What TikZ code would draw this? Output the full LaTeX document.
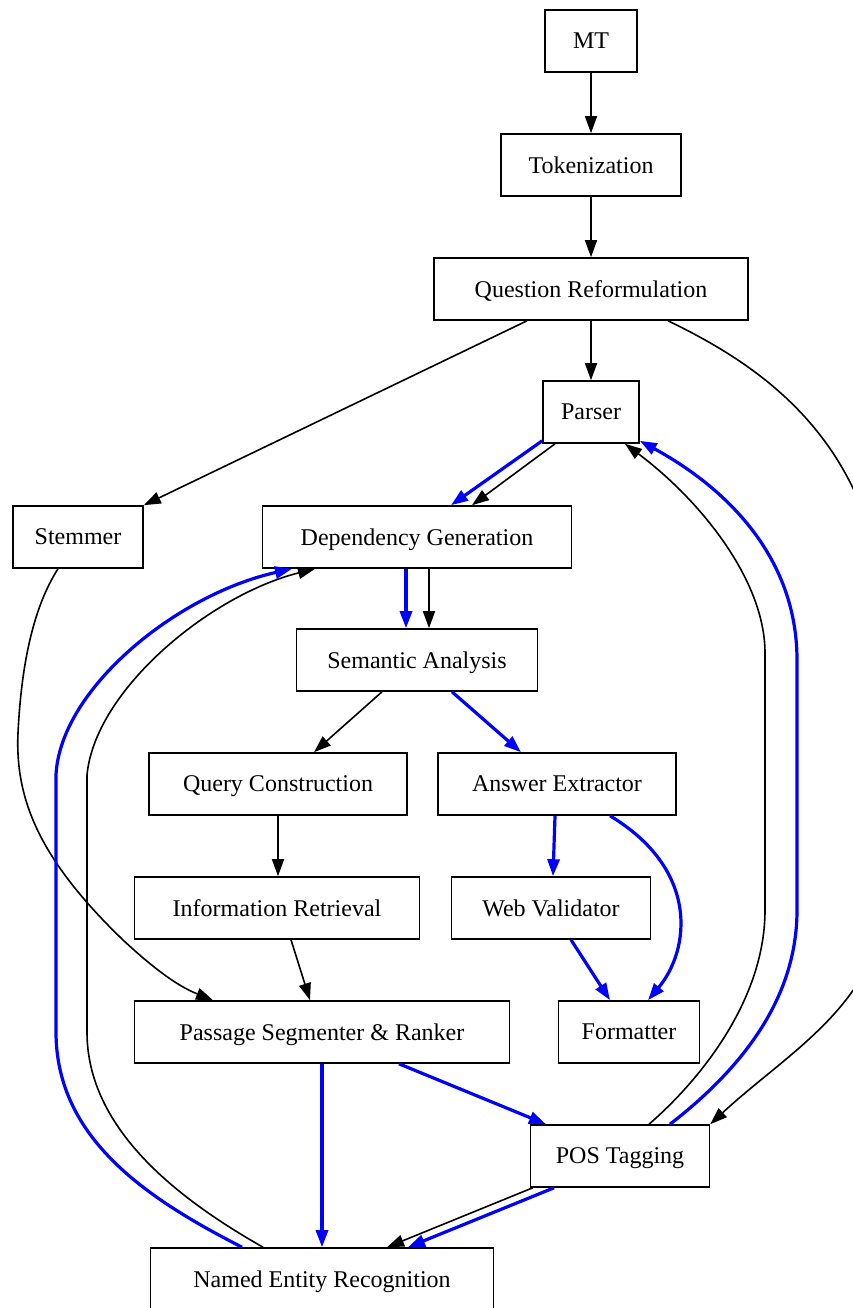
\documentclass[tikz,border=0pt]{standalone}
\usepackage{fontspec}
\setmainfont{Liberation Serif}
\usepackage{tikz}
\usetikzlibrary{arrows.meta,positioning,calc}

\begin{document}
\begin{tikzpicture}[x=1pt,y=-1pt,
    box/.style={draw,line width=1.6pt,minimum height=62pt,inner sep=0pt,text depth=0pt,font=\fontsize{24}{28}\selectfont},
    link/.style={line width=1.6pt,-{Triangle[length=17pt,width=12pt]}},
    bluelink/.style={link,blue,line width=3.2pt}]
  \useasboundingbox (0,0) rectangle (852,1308);
  % nodes
  \node[box,minimum width=92pt] (mt) at (591,41) {MT};
  \node[box,minimum width=180pt] (tok) at (591,165) {Tokenization};
  \node[box,minimum width=314pt] (qr) at (591,289) {Question Reformulation};
  \node[box,minimum width=96pt] (parser) at (591,412) {Parser};
  \node[box,minimum width=130pt] (stem) at (78,537) {Stemmer};
  \node[box,minimum width=309pt] (dep) at (417,537) {Dependency Generation};
  \node[box,minimum width=241pt] (sem) at (417,660) {Semantic Analysis};
  \node[box,minimum width=258pt] (query) at (278,784) {Query Construction};
  \node[box,minimum width=238pt] (ans) at (557,784) {Answer Extractor};
  \node[box,minimum width=285pt] (info) at (277,908) {Information Retrieval};
  \node[box,minimum width=199pt] (web) at (551,908) {Web Validator};
  \node[box,minimum width=375pt] (pass) at (322,1032) {Passage Segmenter \& Ranker};
  \node[box,minimum width=141pt] (fmt) at (629,1032) {Formatter};
  \node[box,minimum width=179pt] (pos) at (620,1156) {POS Tagging};
  \node[box,minimum width=343pt] (ner) at (322,1279) {Named Entity Recognition};
  % black edges
  \foreach \a/\b in {mt/tok,tok/qr,qr/parser}{\draw[link] (\a) -- (\b);}
  \draw[link] ([xshift=-64pt]qr.south) -- (stem.north east);
  \draw[link] ([xshift=77pt]qr.south) .. controls (770,370) and (885,450) .. (888,650)
    -- (888,880) .. controls (888,1000) and (790,1050) .. (pos.north east);
  \draw[link] ([xshift=-36pt]parser.south) -- ([xshift=55pt]dep.north);
  \draw[link] ([xshift=-20pt]stem.south) .. controls (38,600) and (22,650) .. (18,733)
    .. controls (15,800) and (40,860) .. (123,940) .. controls (150,965) and (175,985) .. ([xshift=-109pt]pass.north);
  \draw[link] ([xshift=12pt]dep.south) -- ([xshift=12pt]sem.north);
  \draw[link] ([xshift=-35pt]sem.south) -- ([xshift=36pt]query.north);
  \draw[link] (query.south) -- (query.south |- info.north);
  \draw[link] ([xshift=14pt]info.south) -- ([xshift=-12pt]pass.north);
  \draw[link] ([xshift=3pt]pos.south west) -- ([xshift=65pt]ner.north);
  \draw[link] ([xshift=29pt]pos.north) .. controls (700,1080) and (765,1000) .. (765,910)
    -- (765,653) .. controls (765,580) and (700,500) .. ([xshift=34pt]parser.south);
  \draw[link] ([xshift=-59pt]ner.north) .. controls (180,1200) and (87,1130) .. (87,1032)
    -- (87,775) .. controls (95,690) and (210,595) .. ([xshift=-102pt]dep.south);
  % blue edges
  \draw[bluelink] ([yshift=3pt]parser.south west) -- ([xshift=34pt]dep.north);
  \draw[bluelink] ([xshift=-11pt]dep.south) -- ([xshift=-11pt]sem.north);
  \draw[bluelink] ([xshift=35pt]sem.south) -- ([xshift=-36pt]ans.north);
  \draw[bluelink] ([xshift=-2pt]ans.south) -- ([xshift=2pt]web.north);
  \draw[bluelink] ([xshift=53pt]ans.south) .. controls (700,870) and (690,950) .. ([xshift=19pt]fmt.north);
  \draw[bluelink] ([xshift=20pt]web.south) -- ([xshift=-19pt]fmt.north);
  \draw[bluelink] (pass.south) -- (ner.north);
  \draw[bluelink] ([xshift=77pt]pass.south) -- ([xshift=-74pt]pos.north);
  \draw[bluelink] ([xshift=-66pt]pos.south) -- ([xshift=86pt]ner.north);
  \draw[bluelink] ([xshift=50pt]pos.north) .. controls (740,1070) and (797,1000) .. (797,910)
    -- (797,660) .. controls (797,560) and (730,490) .. ([yshift=3pt]parser.south east);
  \draw[bluelink] ([xshift=-80pt]ner.north) .. controls (150,1200) and (56,1140) .. (56,1032)
    -- (56,775) .. controls (60,690) and (175,595) .. ([xshift=-125pt]dep.south);
\end{tikzpicture}
\end{document}
